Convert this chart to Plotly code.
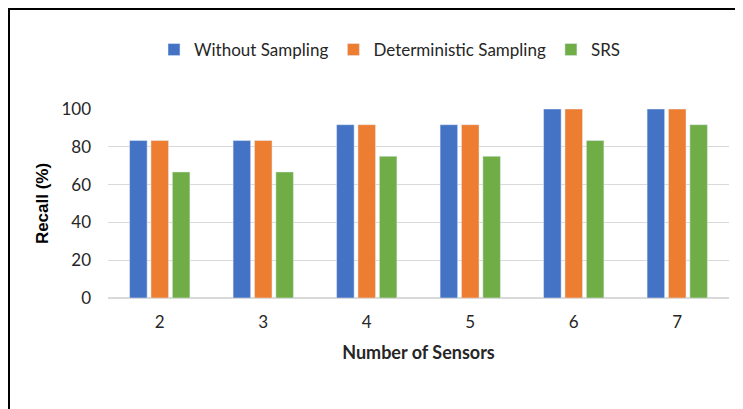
import plotly.graph_objects as go

categories = ["2", "3", "4", "5", "6", "7"]
without_sampling = [83.3, 83.3, 91.7, 91.7, 100, 100]
deterministic = [83.3, 83.3, 91.7, 91.7, 100, 100]
srs = [66.7, 66.7, 75, 75, 83.3, 91.7]
y_ticks = [0, 20, 40, 60, 80, 100]

FONT = "Lato"
fig = go.Figure()
fig.add_trace(go.Bar(x=categories, y=without_sampling, name="Without Sampling", marker_color="#4472C4"))
fig.add_trace(go.Bar(x=categories, y=deterministic, name="Deterministic Sampling", marker_color="#ED7D31"))
fig.add_trace(go.Bar(x=categories, y=srs, name="SRS", marker_color="#70AD47"))

# page body has an 8px margin; figure is sized to fill the rest
W, H = 735, 401
L, R, T, B = 100, 14, 101, 111
pw = W - L - R
ph = H - T - B

def px(x):
    return (x - L) / pw

def py(y):
    return (H - B - y) / ph

fig.update_layout(
    width=W, height=H,
    margin=dict(l=L, r=R, t=T, b=B),
    plot_bgcolor="white", paper_bgcolor="white",
    barmode="group", bargap=0.38, bargroupgap=0.18,
    font=dict(family=FONT, size=17, color="#262626"),
    legend=dict(orientation="h", x=px(382), xanchor="center", y=py(42), yanchor="middle",
                font=dict(family=FONT, size=17, color="#262626"), itemwidth=30),
    xaxis=dict(showgrid=False, showline=False, ticks="", tickfont=dict(size=17),
               ticklabelstandoff=12,
               title=dict(text="<b>Number of Sensors</b>", font=dict(size=18), standoff=15)),
    yaxis=dict(range=[0, 100], tickvals=y_ticks, showgrid=True, gridcolor="#D9D9D9", gridwidth=1,
               zeroline=True, zerolinecolor="#D9D9D9", showline=False, ticks="",
               tickfont=dict(size=17), ticklabelstandoff=16,
               title=dict(text="<b>Recall (%)</b>",
                          font=dict(family="Liberation Sans", size=17, color="black"),
                          standoff=8)),
    shapes=[
        dict(type="line", xref="paper", yref="paper", x0=px(-1), x1=px(W + 5), y0=py(0.5), y1=py(0.5),
             line=dict(color="black", width=3)),
        dict(type="line", xref="paper", yref="paper", x0=px(0.5), x1=px(0.5), y0=py(-1), y1=py(H + 5),
             line=dict(color="black", width=3)),
    ],
)

fig.write_html("out.html")
